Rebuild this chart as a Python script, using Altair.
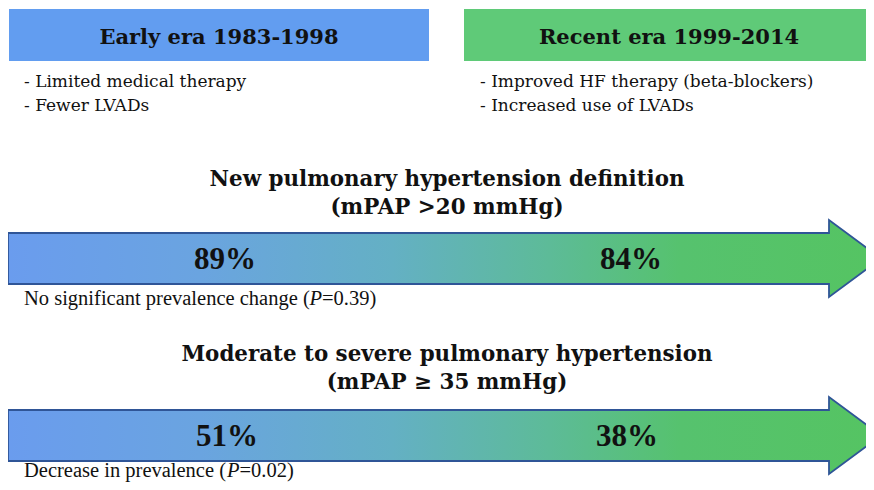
import altair as alt
import pandas as pd

# ---------------- data ----------------
era_titles = ["Early era 1983-1998", "Recent era 1999-2014"]
era_colors = ["#629df0", "#5fca78"]
era_notes = [["- Limited medical therapy", "- Fewer LVADs"],
             ["- Improved HF therapy (beta-blockers)", "- Increased use of LVADs"]]
definition_titles = [["New pulmonary hypertension definition", "(mPAP >20 mmHg)"],
                     ["Moderate to severe pulmonary hypertension", "(mPAP \u2265 35 mmHg)"]]
early_prevalence = [89, 51]
recent_prevalence = [84, 38]
change_notes = ["No significant prevalence change (", "Decrease in prevalence ("]
p_values = ["0.39", "0.02"]

# ---------------- layout (image pixel coordinates) ----------------
OFF = 8
W, H = 874 - 2 * OFF, 490 - 2 * OFF
box_x = [(9, 429), (464, 884)]
box_y = (9, 61)
notes_x = [24, 480]
notes_y = [82, 106]
title_y = 38
def_x = 447
def_y = [(180, 208), (355, 383)]
arrow_cy = [258.5, 435.5]
shaft_half, head_half = 25.5, 38.5
shaft_x0, head_x, tip_x = 8, 829, 881
pct_x = [(225, 631), (227, 627)]
note_x = 24
note_y = [299, 471]
p_offset = [285.5, 203]
p_width = 12.5

georgia_like = "DejaVu Serif"
times_like = "Liberation Serif"

# ---------------- build tables ----------------
boxes = pd.DataFrame({
    "era": era_titles,
    "x": [b[0] - OFF for b in box_x],
    "x2": [b[1] - OFF for b in box_x],
    "y": [box_y[0] - OFF] * 2,
    "y2": [box_y[1] - OFF] * 2,
    "color": era_colors,
})

titles = pd.DataFrame({
    "text": era_titles,
    "x": [(b[0] + min(b[1], 874)) / 2 - OFF for b in box_x],
    "y": [title_y - OFF] * 2,
})

notes_rows = []
for i, lines in enumerate(era_notes):
    for j, t in enumerate(lines):
        notes_rows.append({"text": t, "x": notes_x[i] - OFF, "y": notes_y[j] - OFF})
notes = pd.DataFrame(notes_rows)

def_rows = []
for i, lines in enumerate(definition_titles):
    for j, t in enumerate(lines):
        def_rows.append({"text": t, "x": def_x - OFF, "y": def_y[i][j] - OFF})
defs = pd.DataFrame(def_rows)

arrow_rows = []
for i, cy in enumerate(arrow_cy):
    pts = [
        (shaft_x0, cy - shaft_half, cy + shaft_half),
        (head_x, cy - shaft_half, cy + shaft_half),
        (head_x + 0.01, cy - head_half, cy + head_half),
        (tip_x, cy, cy),
    ]
    for k, (x, yt, yb) in enumerate(pts):
        arrow_rows.append({"arrow": i, "k": k, "x": x - OFF, "yt": yt - OFF, "yb": yb - OFF})
arrows = pd.DataFrame(arrow_rows)

pct_rows = []
for i in range(2):
    pct_rows.append({"text": f"{early_prevalence[i]}%", "x": pct_x[i][0] - OFF, "y": arrow_cy[i] + 1.5 - OFF})
    pct_rows.append({"text": f"{recent_prevalence[i]}%", "x": pct_x[i][1] - OFF, "y": arrow_cy[i] + 1.5 - OFF})
pcts = pd.DataFrame(pct_rows)

pre = pd.DataFrame({"text": change_notes, "x": [note_x - OFF] * 2, "y": [y - OFF for y in note_y]})
pital = pd.DataFrame({"text": ["P", "P"], "x": [note_x + o - OFF for o in p_offset], "y": [y - OFF for y in note_y]})
post = pd.DataFrame({"text": [f"={v})" for v in p_values],
                     "x": [note_x + o + p_width - OFF for o in p_offset], "y": [y - OFF for y in note_y]})

# ---------------- scales ----------------
xs = alt.Scale(domain=[0, W], range=[0, W], nice=False, zero=False)
ys = alt.Scale(domain=[0, H], range=[0, H], nice=False, zero=False)


def X(f="x"):
    return alt.X(f"{f}:Q", scale=xs, axis=None)


def Y(f="y"):
    return alt.Y(f"{f}:Q", scale=ys, axis=None)


box_layer = alt.Chart(boxes).mark_rect(clip=True).encode(
    x=X(), x2="x2:Q", y=Y(), y2="y2:Q",
    color=alt.Color("color:N", scale=None),
)

title_layer = alt.Chart(titles).mark_text(
    font=georgia_like, fontSize=21, fontWeight="bold", color="#111111", baseline="middle", align="center"
).encode(x=X(), y=Y(), text="text:N")

notes_layer = alt.Chart(notes).mark_text(
    font=georgia_like, fontSize=17, color="#111111", baseline="middle", align="left"
).encode(x=X(), y=Y(), text="text:N")

defs_layer = alt.Chart(defs).mark_text(
    font=georgia_like, fontSize=21.4, fontWeight="bold", color="#111111", baseline="middle", align="center"
).encode(x=X(), y=Y(), text="text:N")

grad = alt.Gradient(
    gradient="linear", x1=0, x2=1, y1=0, y2=0,
    stops=[
        alt.GradientStop(color="#6a9cee", offset=0.0),
        alt.GradientStop(color="#6aa4e0", offset=0.22),
        alt.GradientStop(color="#64b0c4", offset=0.44),
        alt.GradientStop(color="#5dbb98", offset=0.62),
        alt.GradientStop(color="#56c26e", offset=0.77),
        alt.GradientStop(color="#55c462", offset=1.0),
    ],
)

arrow_layers = []
for i in range(2):
    arrow_layers.append(
        alt.Chart(arrows[arrows["arrow"] == i]).mark_area(
            fill=grad, stroke="#2f5597", strokeWidth=1.8, interpolate="linear", opacity=1, fillOpacity=1
        ).encode(x=X(), y=alt.Y("yt:Q", scale=ys, axis=None, stack=None), y2="yb:Q")
    )

pct_layer = alt.Chart(pcts).mark_text(
    font=times_like, fontSize=31, fontWeight="bold", color="#111111", baseline="middle", align="center"
).encode(x=X(), y=Y(), text="text:N")

pre_layer = alt.Chart(pre).mark_text(
    font=times_like, fontSize=20.5, color="#111111", baseline="middle", align="left"
).encode(x=X(), y=Y(), text="text:N")
p_layer = alt.Chart(pital).mark_text(
    font=times_like, fontSize=20.5, fontStyle="italic", color="#111111", baseline="middle", align="left"
).encode(x=X(), y=Y(), text="text:N")
post_layer = alt.Chart(post).mark_text(
    font=times_like, fontSize=20.5, color="#111111", baseline="middle", align="left"
).encode(x=X(), y=Y(), text="text:N")

chart = alt.layer(
    box_layer, title_layer, notes_layer, defs_layer, *arrow_layers,
    pct_layer, pre_layer, p_layer, post_layer,
).properties(
    width=W, height=H, padding=0, background="white",
    autosize=alt.AutoSizeParams(type="none"),
).configure_view(stroke=None)

chart.save("out.html", embed_options={"renderer": "svg", "actions": False})
